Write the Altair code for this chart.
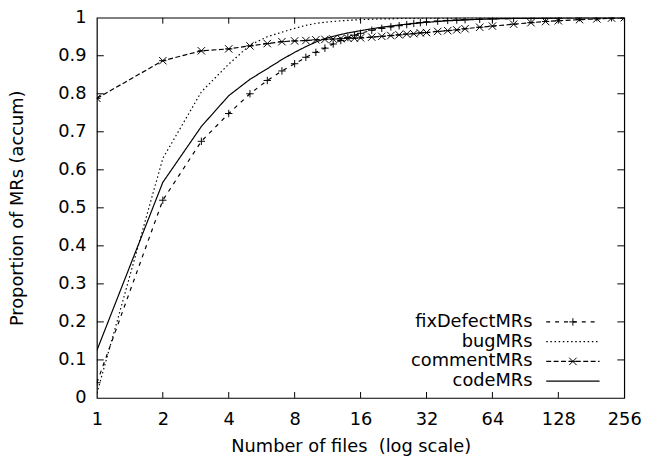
import altair as alt
import pandas as pd

# ---- data ----
files = [1, 2, 3, 4, 5, 6, 7, 8, 9, 10, 11, 12, 13, 14, 15, 16, 18, 20, 22, 24,
         26, 28, 30, 32, 36, 40, 44, 48, 56, 64, 80, 96, 112, 128, 160, 192, 224, 256]

fixDefectMRs = [0.04, 0.52, 0.675, 0.748, 0.80, 0.835, 0.86, 0.879, 0.896, 0.909,
                0.920, 0.931, 0.940, 0.948, 0.954, 0.959, 0.967, 0.972, 0.976, 0.979,
                0.982, 0.985, 0.987, 0.989, 0.991, 0.993, 0.994, 0.995, 0.996, 0.997,
                0.998, 0.999, 0.999, 1.0, 1.0, 1.0, 1.0, 1.0]

bugMRs = [0.012, 0.63, 0.805, 0.878, 0.928, 0.95, 0.962, 0.972, 0.980, 0.985,
          0.988, 0.990, 0.992, 0.993, 0.994, 0.995, 0.996, 0.997, 0.997, 0.998,
          0.998, 0.998, 0.999, 0.999, 0.999, 0.999, 0.999, 1.0, 1.0, 1.0,
          1.0, 1.0, 1.0, 1.0, 1.0, 1.0, 1.0, 1.0]

commentMRs = [0.788, 0.887, 0.913, 0.918, 0.926, 0.932, 0.937, 0.939, 0.940, 0.942,
              0.943, 0.944, 0.945, 0.946, 0.946, 0.947, 0.949, 0.951, 0.953, 0.955,
              0.957, 0.958, 0.960, 0.961, 0.964, 0.966, 0.968, 0.971, 0.975, 0.978,
              0.983, 0.987, 0.990, 0.992, 0.995, 0.997, 0.999, 1.0]

codeMRs = [0.125, 0.567, 0.714, 0.795, 0.838, 0.866, 0.89, 0.909, 0.924, 0.936,
           0.945, 0.951, 0.956, 0.960, 0.963, 0.966, 0.971, 0.975, 0.978, 0.981,
           0.983, 0.985, 0.987, 0.988, 0.990, 0.992, 0.993, 0.994, 0.996, 0.997,
           0.998, 0.998, 0.999, 0.999, 1.0, 1.0, 1.0, 1.0]

series_names = ["fixDefectMRs", "bugMRs", "commentMRs", "codeMRs"]
series_values = [fixDefectMRs, bugMRs, commentMRs, codeMRs]

x_ticks = [1, 2, 4, 8, 16, 32, 64, 128, 256]
y_ticks = [0, 0.1, 0.2, 0.3, 0.4, 0.5, 0.6, 0.7, 0.8, 0.9, 1]

# ---- styles ----
FONT = "DejaVu Sans"
FS = 18
W, H = 534, 385
dashes = [[4, 5], [1.5, 2.7], [5, 2.5], [1, 0]]
PLUS = "M-1,0L1,0M0,-1L0,1"
STAR = "M-1,-1L1,1M-1,1L1,-1M-1,0L1,0"
shapes = [PLUS, "circle", STAR, "circle"]

rows = []
for name, vals in zip(series_names, series_values):
    for f, v in zip(files, vals):
        rows.append({"series": name, "files": f, "prop": v})
df = pd.DataFrame(rows)

xscale = alt.Scale(type="log", base=2, domain=[1, 256], nice=False)
yscale = alt.Scale(domain=[0, 1], nice=False, zero=False)

xaxis = alt.Axis(values=x_ticks, format="d", title="Number of files \u00a0(log scale)",
                 ticks=False, domain=False, grid=False, labelFlush=False, labelOverlap=False,
                 labelFont=FONT, labelFontSize=FS, labelBaseline="alphabetic", labelPadding=27,
                 labelColor="black", titleFont=FONT, titleFontSize=FS, titleFontWeight="normal",
                 titleColor="black", titleX=257, titleY=54, titleAlign="center",
                 titleBaseline="alphabetic")
yaxis = alt.Axis(values=y_ticks, format=".1~f", title="Proportion of MRs (accum)",
                 ticks=False, domain=False, grid=False, labelFlush=False, labelOverlap=False,
                 labelFont=FONT, labelFontSize=FS, labelAlign="right", labelBaseline="middle",
                 labelPadding=11, labelColor="black", titleFont=FONT, titleFontSize=FS,
                 titleFontWeight="normal", titleColor="black", titleX=-75, titleY=H / 2,
                 titleAngle=-90, titleAlign="center", titleBaseline="alphabetic")

X = lambda f: alt.X(f, scale=xscale, axis=xaxis)
Y = lambda f: alt.Y(f, scale=yscale, axis=yaxis)

lines = alt.Chart(df).mark_line(color="black", strokeWidth=1.2, clip=True).encode(
    x=X("files:Q"),
    y=Y("prop:Q"),
    strokeDash=alt.StrokeDash("series:N", scale=alt.Scale(domain=series_names, range=dashes),
                              legend=None),
    detail="series:N",
)

pts = alt.Chart(df).transform_filter(
    alt.FieldOneOfPredicate(field="series", oneOf=["fixDefectMRs", "commentMRs"])
).mark_point(color="black", filled=False, strokeWidth=1, size=56, opacity=1, clip=True).encode(
    x=X("files:Q"),
    y=Y("prop:Q"),
    shape=alt.Shape("series:N", scale=alt.Scale(domain=series_names, range=shapes), legend=None),
)

# inward tick marks on all four sides
xt = pd.DataFrame({"t": x_ticks[1:-1]})
yt = pd.DataFrame({"t": y_ticks[1:-1]})
tick_bottom = alt.Chart(xt).mark_rule(color="black", strokeWidth=1).encode(
    x=X("t:Q"), y=alt.value(H), y2=alt.value(H - 6))
tick_top = alt.Chart(xt).mark_rule(color="black", strokeWidth=1).encode(
    x=X("t:Q"), y=alt.value(0), y2=alt.value(6))
tick_left = alt.Chart(yt).mark_rule(color="black", strokeWidth=1).encode(
    y=Y("t:Q"), x=alt.value(0), x2=alt.value(7))
tick_right = alt.Chart(yt).mark_rule(color="black", strokeWidth=1).encode(
    y=Y("t:Q"), x=alt.value(W), x2=alt.value(W - 7))

# gnuplot-style legend (text, then sample)
legend_layers = []
for i, name in enumerate(series_names):
    ry = 308 + 20 * i
    one = pd.DataFrame({"label": [name]})
    legend_layers.append(alt.Chart(one).mark_text(
        font=FONT, fontSize=FS, align="right", baseline="middle", color="black").encode(
        text="label:N", x=alt.value(441), y=alt.value(ry)))
    legend_layers.append(alt.Chart(one).mark_rule(
        color="black", strokeWidth=1.2, strokeDash=dashes[i]).encode(
        x=alt.value(455), x2=alt.value(509), y=alt.value(ry)))
    if name in ("fixDefectMRs", "commentMRs"):
        legend_layers.append(alt.Chart(one).mark_point(
            color="black", filled=False, strokeWidth=1, size=56, opacity=1,
            shape=shapes[i]).encode(x=alt.value(482), y=alt.value(ry)))

chart = alt.layer(lines, pts, tick_bottom, tick_top, tick_left, tick_right,
                  *legend_layers).properties(
    width=W, height=H,
    autosize=alt.AutoSizeParams(type="none"),
    padding={"left": 90, "top": 7, "right": 20, "bottom": 61},
    background="white",
).configure_view(stroke="black", strokeWidth=1.2)

chart.save("out.html", embed_options={"renderer": "svg", "actions": False})
